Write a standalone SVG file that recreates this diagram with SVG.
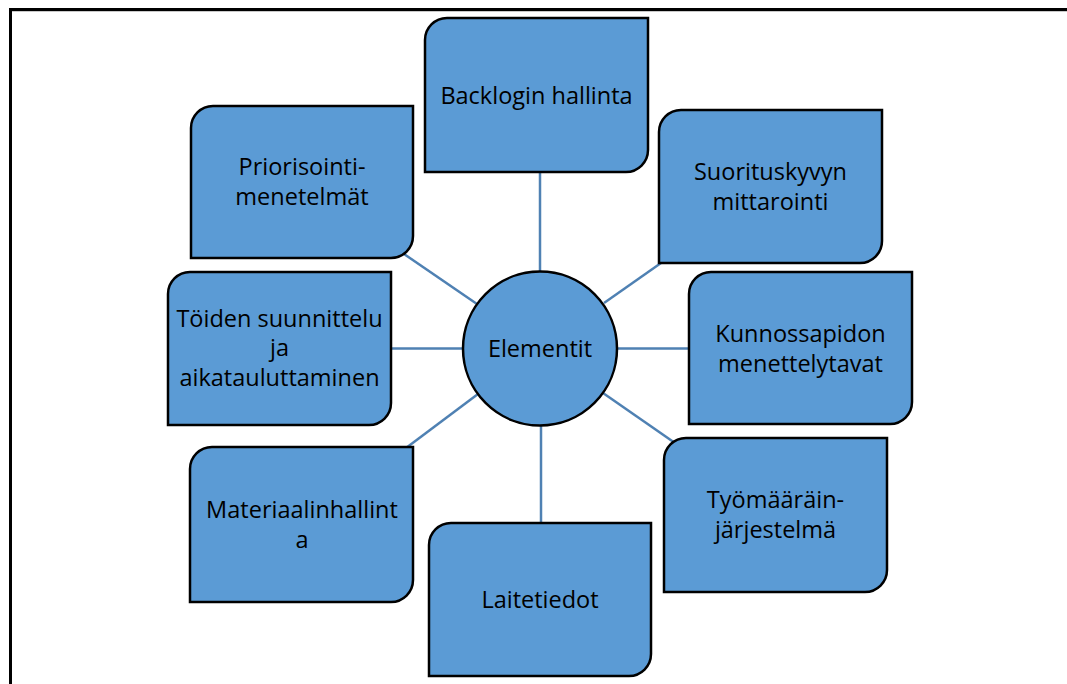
<svg xmlns="http://www.w3.org/2000/svg" width="1067" height="684" viewBox="0 0 1067 684">
  <defs>
    <style>
      .frame { stroke: #000; stroke-width: 3; fill: none; }
      .link { stroke: #4F81B3; stroke-width: 2.5; fill: none; }
      .node { fill: #5B9BD5; stroke: #000; stroke-width: 2.5; }
      .label { font-family: "Open Sans", "Liberation Sans", sans-serif; font-size: 23.5px; fill: #000; text-anchor: middle; }
    </style>
  </defs>
  <rect width="1067" height="684" fill="#fff"/>

  <!-- page frame -->
  <g id="frame">
    <line x1="9" y1="9.5" x2="1067" y2="9.5" class="frame"/>
    <line x1="9" y1="11.5" x2="1067" y2="11.5" stroke="#c8c8c8" stroke-width="1"/>
    <line x1="10.5" y1="8" x2="10.5" y2="684" class="frame"/>
  </g>

  <!-- spokes from the hub to each element -->
  <g id="connectors">
    <line x1="540" y1="172" x2="540" y2="272" class="link"/>
    <line x1="541" y1="425" x2="541" y2="523" class="link"/>
    <line x1="391" y1="348.5" x2="463" y2="348.5" class="link"/>
    <line x1="617" y1="348.5" x2="689" y2="348.5" class="link"/>
    <line x1="404" y1="254" x2="477" y2="304" class="link"/>
    <line x1="604" y1="303" x2="661" y2="263" class="link"/>
    <line x1="478" y1="394" x2="406" y2="448" class="link"/>
    <line x1="603" y1="393" x2="675" y2="443" class="link"/>
  </g>

  <!-- hub -->
  <g id="hub">
    <circle cx="540" cy="348.5" r="77" class="node"/>
    <text x="540" y="357" class="label">Elementit</text>
  </g>

  <!-- element boxes: rounded top-left and bottom-right corners -->
  <g id="backlog">
    <path class="node" d="M447,18 H648 V150 A22,22 0 0 1 626,172 H425 V40 A22,22 0 0 1 447,18 Z"/>
    <text x="536.5" y="104" class="label">Backlogin hallinta</text>
  </g>

  <g id="priorisointi">
    <path class="node" d="M213,106 H413 V236 A22,22 0 0 1 391,258 H191 V128 A22,22 0 0 1 213,106 Z"/>
    <text x="302" y="175" class="label">Priorisointi-</text>
    <text x="302" y="205" class="label">menetelmät</text>
  </g>

  <g id="suorituskyky">
    <path class="node" d="M681,110 H882 V241 A22,22 0 0 1 860,263 H659 V132 A22,22 0 0 1 681,110 Z"/>
    <text x="770.5" y="180" class="label">Suorituskyvyn</text>
    <text x="770.5" y="210" class="label">mittarointi</text>
  </g>

  <g id="toiden-suunnittelu">
    <path class="node" d="M190,272 H391 V403 A22,22 0 0 1 369,425 H168 V294 A22,22 0 0 1 190,272 Z"/>
    <text x="279.5" y="327" class="label">Töiden suunnittelu</text>
    <text x="279.5" y="356" class="label">ja</text>
    <text x="279.5" y="386" class="label">aikatauluttaminen</text>
  </g>

  <g id="kunnossapito">
    <path class="node" d="M711,272 H912 V402 A22,22 0 0 1 890,424 H689 V294 A22,22 0 0 1 711,272 Z"/>
    <text x="800.5" y="342" class="label">Kunnossapidon</text>
    <text x="800.5" y="372" class="label">menettelytavat</text>
  </g>

  <g id="materiaalinhallinta">
    <path class="node" d="M212,447 H413 V580 A22,22 0 0 1 391,602 H190 V469 A22,22 0 0 1 212,447 Z"/>
    <text x="302" y="518" class="label">Materiaalinhallint</text>
    <text x="302" y="548" class="label">a</text>
  </g>

  <g id="tyomaarain">
    <path class="node" d="M686,438 H887 V570 A22,22 0 0 1 865,592 H664 V460 A22,22 0 0 1 686,438 Z"/>
    <text x="775.5" y="508" class="label">Työmääräin-</text>
    <text x="775.5" y="538" class="label">järjestelmä</text>
  </g>

  <g id="laitetiedot">
    <path class="node" d="M451,523 H651 V654 A22,22 0 0 1 629,676 H429 V545 A22,22 0 0 1 451,523 Z"/>
    <text x="540" y="608" class="label">Laitetiedot</text>
  </g>
</svg>
